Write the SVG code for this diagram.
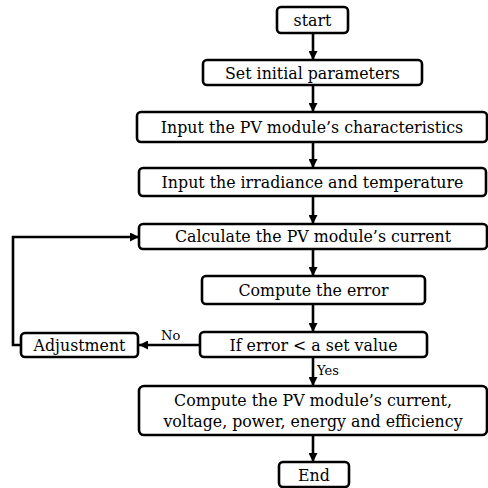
<svg xmlns="http://www.w3.org/2000/svg" width="488" height="488" viewBox="0 0 488 488">
<style>
.box{fill:#fff;stroke:#000;stroke-width:2.6}
.t{font-family:"DejaVu Serif","Liberation Serif",serif;font-size:15.8px;fill:#000;text-anchor:middle}
.lbl{font-family:"DejaVu Serif","Liberation Serif",serif;font-size:13px;fill:#000}
.c{fill:none;stroke:#000;stroke-width:2.6}
</style>
<defs>
<marker id="ah" markerUnits="userSpaceOnUse" markerWidth="9" markerHeight="9" viewBox="0 0 9 9" refX="9" refY="4.5" orient="auto">
<path d="M0,0 L9,4.5 L0,9 Z" fill="#000"/>
</marker>
</defs>
<g id="connectors">
<line class="c" x1="313" y1="33" x2="313" y2="60" marker-end="url(#ah)"/>
<line class="c" x1="313" y1="85" x2="313" y2="112" marker-end="url(#ah)"/>
<line class="c" x1="313" y1="142" x2="313" y2="168" marker-end="url(#ah)"/>
<line class="c" x1="313" y1="196" x2="313" y2="224" marker-end="url(#ah)"/>
<line class="c" x1="313" y1="249" x2="313" y2="276" marker-end="url(#ah)"/>
<line class="c" x1="313" y1="304" x2="313" y2="332" marker-end="url(#ah)"/>
<line class="c" x1="313" y1="357" x2="313" y2="386" marker-end="url(#ah)"/>
<line class="c" x1="313" y1="435" x2="313" y2="462" marker-end="url(#ah)"/>
<line class="c" x1="200" y1="345" x2="139" y2="345" marker-end="url(#ah)"/>
<polyline class="c" points="21,345 13,345 13,237 139,237" marker-end="url(#ah)"/>
<text class="lbl" x="161" y="340">No</text>
<text class="lbl" x="317" y="375">Yes</text>
</g>
<g id="start"><rect class="box" x="277" y="7" width="71" height="26" rx="4"/><text class="t" x="312.5" y="26">start</text></g>
<g id="set-params"><rect class="box" x="203" y="60" width="219" height="25" rx="4"/><text class="t" x="312.5" y="78.5">Set initial parameters</text></g>
<g id="input-char"><rect class="box" x="137" y="112" width="350" height="30" rx="4"/><text class="t" x="312" y="132.5">Input the PV module’s characteristics</text></g>
<g id="input-irr"><rect class="box" x="139" y="168" width="347" height="28" rx="4"/><text class="t" x="312.5" y="187.5">Input the irradiance and temperature</text></g>
<g id="calc-current"><rect class="box" x="139" y="224" width="348" height="25" rx="4"/><text class="t" x="313" y="242">Calculate the PV module’s current</text></g>
<g id="compute-error"><rect class="box" x="202" y="276" width="223" height="28" rx="4"/><text class="t" x="313.5" y="295.5">Compute the error</text></g>
<g id="if-error"><rect class="box" x="200" y="332" width="227" height="25" rx="4"/><text class="t" x="313.5" y="350.5">If error &lt; a set value</text></g>
<g id="adjustment"><rect class="box" x="21" y="333" width="117" height="24" rx="4"/><text class="t" x="79.5" y="350.5">Adjustment</text></g>
<g id="compute-final"><rect class="box" x="139" y="386" width="348" height="49" rx="5"/><text class="t" x="313" y="406">Compute the PV module’s current,</text><text class="t" x="313" y="427">voltage, power, energy and efficiency</text></g>
<g id="end"><rect class="box" x="279" y="462" width="70" height="25" rx="4"/><text class="t" x="314" y="480.5">End</text></g>
</svg>
